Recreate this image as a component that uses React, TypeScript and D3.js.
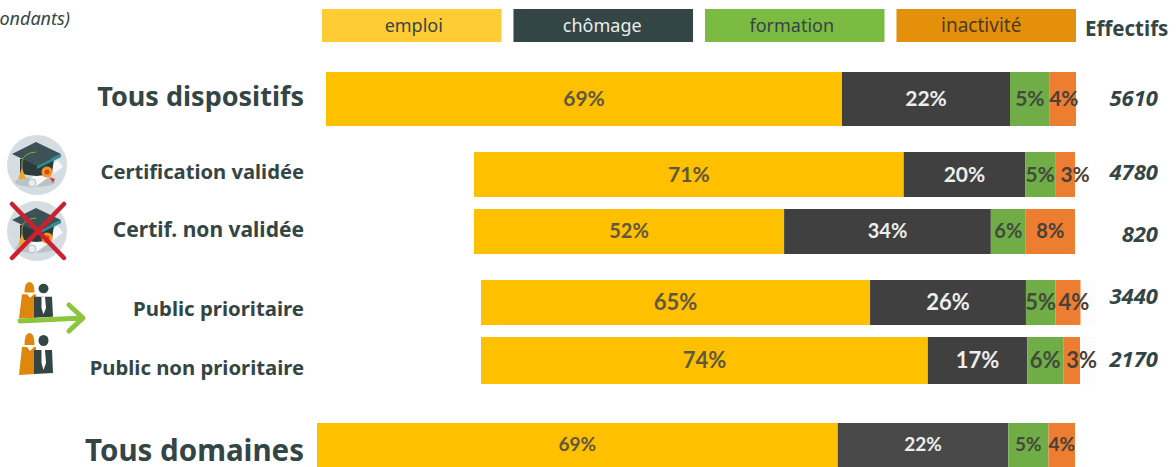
import React from 'react';
import * as d3 from 'd3';

const statuses = ['emploi', 'chômage', 'formation', 'inactivité'];
const legendColors = ['#ffcc33', '#344546', '#7cbb42', '#e5900b'];
const barColors = ['#ffc000', '#404040', '#70ad47', '#ed7d31'];
const labelColors = ['#5f573f', '#eeeeee', '#414a3c', '#4a4038'];

const rowNames = [
  'Tous dispositifs',
  'Certification validée',
  'Certif. non validée',
  'Public prioritaire',
  'Public non prioritaire',
  'Tous domaines',
];
// segment shares, in %
const emploi = [68.8, 71.5, 51.6, 64.9, 74.6, 68.7];
const chomage = [22.4, 20.2, 34.4, 26.0, 16.6, 22.5];
const formation = [5.3, 5.0, 5.8, 4.9, 6.0, 5.3];
const inactivite = [3.5, 3.3, 8.2, 4.2, 2.8, 3.5];

const emploiLabels = ['69%', '71%', '52%', '65%', '74%', '69%'];
const chomageLabels = ['22%', '20%', '34%', '26%', '17%', '22%'];
const formationLabels = ['5%', '5%', '6%', '5%', '6%', '5%'];
const inactiviteLabels = ['4%', '3%', '8%', '4%', '3%', '4%'];
const effectifs = ['5610', '4780', '820', '3440', '2170', ''];

// each bar was pasted by hand in the source slide, so each has its own box
const barLeft = [326, 474, 474, 481, 481, 317];
const barRight = [1076, 1075, 1075, 1080.5, 1080, 1075];
const barTop = [72, 152, 209, 280, 337, 423];
const barBottom = [126, 197, 254, 325, 384, 467];
const labelFont = [21, 21, 20, 22, 22, 19];
const nameFont = [27, 20.2, 21, 20.4, 20.3, 29.5];
const nameY = [106, 179, 237, 316, 375, 461];
const effectifY = [106, 180, 242, 304, 367, 0];
const lastLabelShift = [1, 10, 0, 6, 10, 0];

const FONT = '"Noto Sans", "Open Sans", sans-serif';
const PCT_FONT = 'Lato, "Noto Sans", sans-serif';
const INK = '#344546';

const legendX = d3.scaleBand().domain(statuses).range([322, 1076]).paddingInner(0.0625).paddingOuter(0);

const rows = rowNames.map((name, i) => ({
  name,
  emploi: emploi[i],
  'chômage': chomage[i],
  formation: formation[i],
  'inactivité': inactivite[i],
}));
const stacked = d3.stack().keys(statuses)(rows as any);
const labelSets = [emploiLabels, chomageLabels, formationLabels, inactiviteLabels];

const Diploma = ({ cx, cy }: { cx: number; cy: number }) => (
  <g transform={`translate(${cx},${cy})`}>
    <circle r={30} fill="#d5dde2" />
    <ellipse cx={-2} cy={17} rx={20} ry={5} fill="#b9c2c6" />
    <path d="M-8 14 L21 -5 L26 2 L-2 22 Z" fill="#f7f9f9" />
    <circle cx={-5} cy={18} r={4} fill="#e8eced" stroke="#b5bdc0" />
    <path d="M-17 -6 L17 -6 L15 8 Q0 14 -17 8 Z" fill="#2c3a3b" />
    <path d="M-25 -11 L-1 -23 L24 -11 L0 1 Z" fill="#3d5254" />
    <path d="M0 1 L24 -11 L24 -8 L0 4 Z" fill="#2f8a96" />
    <path d="M-1 -13 Q-14 -12 -15 -3 L-15 5" fill="none" stroke="#9aa23d" strokeWidth={1} />
    <path d="M-15 3 L-11 14 L-19 14 Z" fill="#eda92a" />
    <circle cx={10} cy={7} r={5.5} fill="#ef9a1a" />
    <circle cx={10} cy={7} r={2.5} fill="#d8402a" />
    <path d="M12 12 L18 14 L16 18 Z" fill="#d8402a" />
  </g>
);

const People = ({ x, y, sy }: { x: number; y: number; sy: number }) => (
  <g transform={`translate(${x},${y}) scale(1,${sy})`}>
    <path d="M5.5 12 Q5.5 0 10.5 0 Q15.5 0 15.5 12 Z" fill="#df860d" />
    <path d="M3 14 L8 14 L11 18 L15 14 L17 14 L17 41 L0 42 Z" fill="#df860d" />
    <ellipse cx={24.5} cy={7.5} rx={5} ry={5.5} fill={INK} />
    <path d="M15 17 L33 17 L34 40 L15 41 Z" fill={INK} />
    <path d="M22.5 17 L26 17 L27 30 L24.5 37 L22.5 30 Z" fill="#fff" />
  </g>
);

export default function App() {
  const W = 1176;
  const H = 467;
  return (
    <svg
      width={W}
      height={H}
      viewBox={`0 0 ${W} ${H}`}
      style={{ position: 'absolute', left: 0, top: 0, display: 'block', background: '#fff' }}
      fontFamily={FONT}
    >
      <text x={70} y={25} textAnchor="end" fontSize={18} fontStyle="italic" fill={INK}>
        (en % des répondants)
      </text>

      {statuses.map((s, i) => (
        <g key={s}>
          <rect x={legendX(s)} y={9} width={legendX.bandwidth()} height={33} fill={legendColors[i]} />
          <text
            x={legendX(s)! + legendX.bandwidth() / 2 + (i === 0 ? 2 : i === 2 ? -3 : i === 3 ? -5 : -1)}
            y={32}
            textAnchor="middle"
            fontSize={i === 3 ? 19 : 18}
            fill={i === 1 ? '#e8eeee' : i === 3 ? '#4f3a1c' : INK}
          >
            {s}
          </text>
        </g>
      ))}
      <text x={1085} y={36} fontSize={20.5} fontWeight="bold" fill={INK}>
        Effectifs
      </text>

      {/* faint pasted backgrounds behind the two public bars */}
      <rect x={1081} y={280} width={15} height={46} fill="#fcfcfc" />
      <rect x={1081} y={337} width={15} height={48} fill="#fcfcfc" />

      {rowNames.map((name, r) => {
        const x = d3.scaleLinear().domain([0, 100]).range([barLeft[r], barRight[r]]);
        const midY = (barTop[r] + barBottom[r]) / 2;
        return (
          <g key={name}>
            <text x={304} y={nameY[r]} textAnchor="end" fontSize={nameFont[r]} fontWeight="bold" fill={INK}>
              {name}
            </text>
            {stacked.map((layer, k) => {
              const [a, b] = layer[r];
              return (
                <rect
                  key={k}
                  x={x(a)}
                  y={barTop[r]}
                  width={x(b) - x(a)}
                  height={barBottom[r] - barTop[r]}
                  fill={r === 5 && k === 1 ? '#494949' : barColors[k]}
                />
              );
            })}
            {stacked.map((layer, k) => {
              const [a, b] = layer[r];
              return (
                <text
                  key={k}
                  x={(x(a) + x(b)) / 2 + (k === 3 ? lastLabelShift[r] : 0)}
                  y={midY + labelFont[r] * 0.34}
                  textAnchor="middle"
                  fontFamily={PCT_FONT}
                  fontSize={labelFont[r]}
                  fontWeight={700}
                  fill={labelColors[k]}
                >
                  {labelSets[k][r]}
                </text>
              );
            })}
            {effectifs[r] && (
              <text
                x={1158}
                y={effectifY[r]}
                textAnchor="end"
                fontSize={22}
                fontWeight="bold"
                fontStyle="italic"
                fill={INK}
              >
                {effectifs[r]}
              </text>
            )}
          </g>
        );
      })}

      <Diploma cx={37} cy={165} />
      <Diploma cx={37} cy={231} />
      <path d="M12 204 L64 258 M64 204 L12 258" stroke="#cc2030" strokeWidth={4.5} strokeLinecap="round" />

      <People x={19} y={282} sy={0.87} />
      <path
        d="M20 321 L82 318 M69 305 L83 318 L69 331"
        fill="none"
        stroke="#8cc63f"
        strokeWidth={5}
        strokeLinecap="round"
        strokeLinejoin="round"
      />
      <People x={19} y={333} sy={1} />
    </svg>
  );
}
